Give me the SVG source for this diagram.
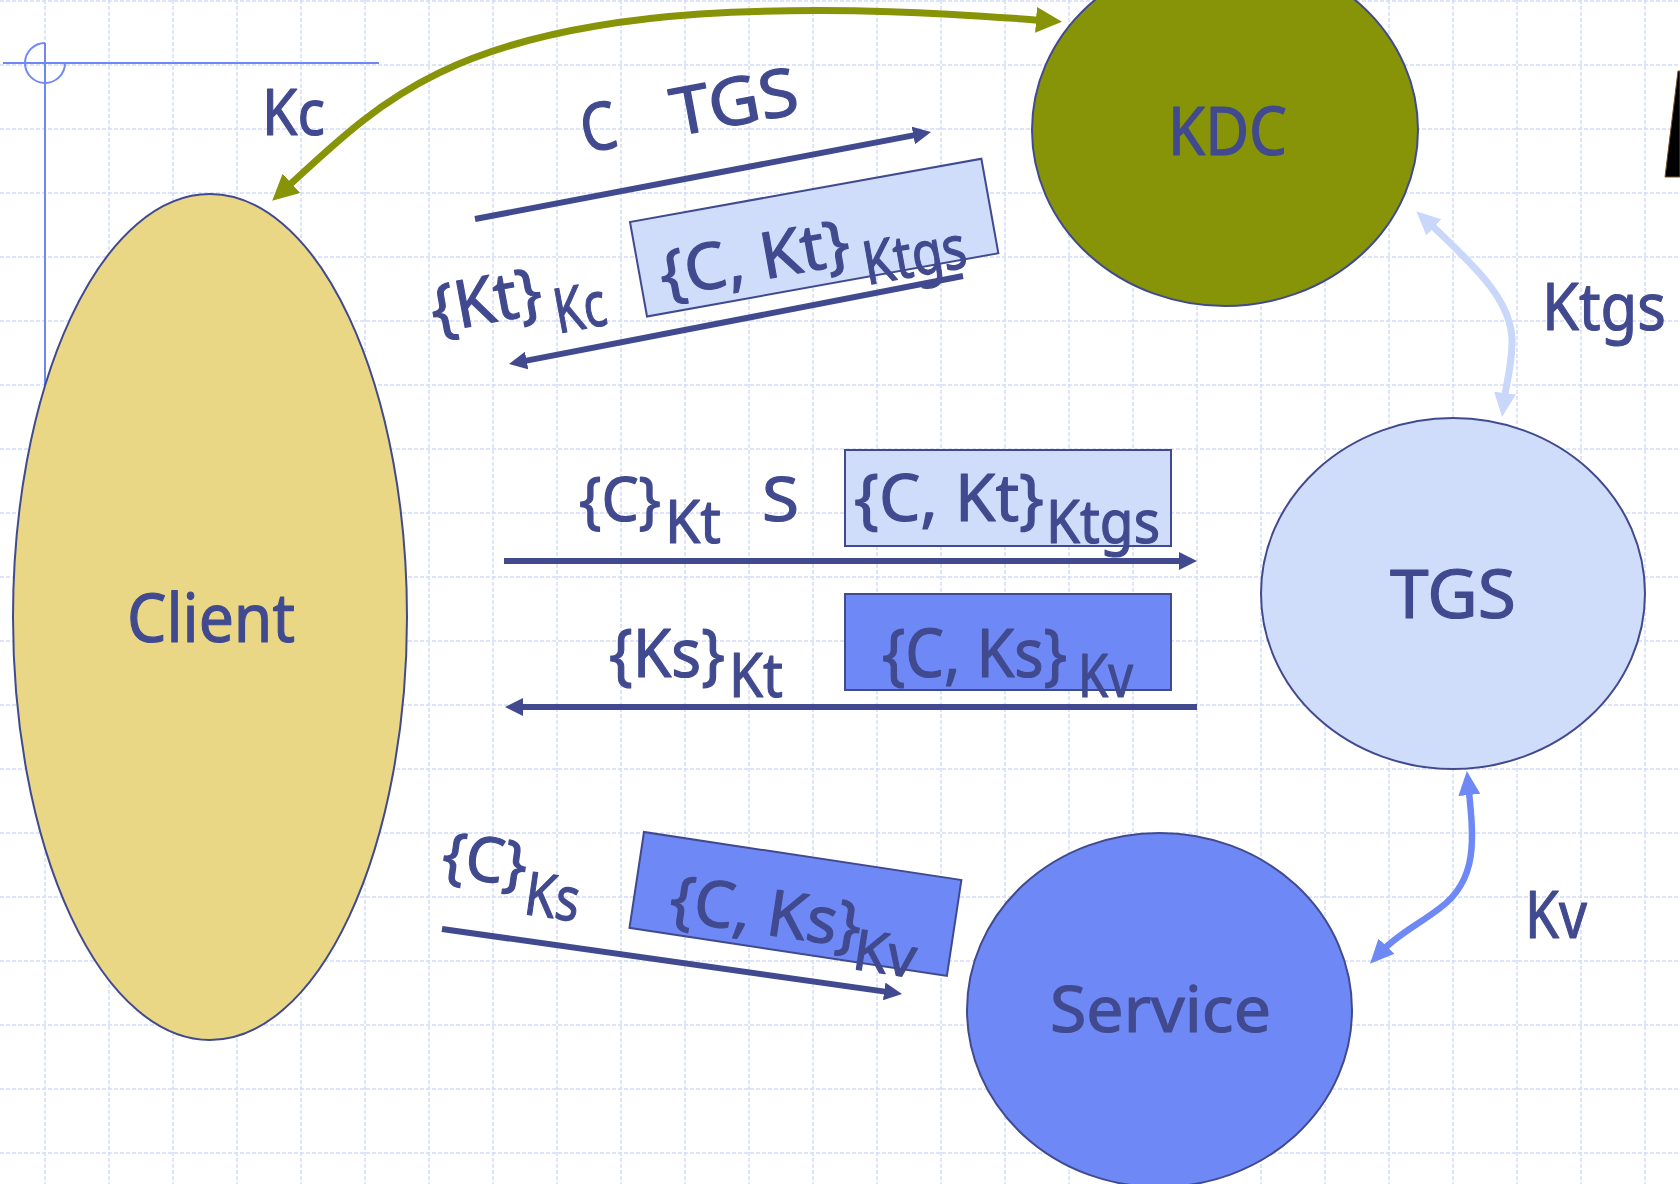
<svg xmlns="http://www.w3.org/2000/svg" width="1680" height="1184" viewBox="0 0 1680 1184">
  <style>
    .grid { fill: none; stroke: #d4ddf9; stroke-width: 1.5; stroke-dasharray: 4 2; }
    .node { stroke: #414a8f; stroke-width: 2; }
    .lbl { font-family: "Noto Sans", "DejaVu Sans", sans-serif; fill: #414a8f; stroke: #414a8f; stroke-width: 1.2; stroke-linejoin: round; }
    .msg { fill: none; stroke: #414a8f; stroke-width: 6; }
    .box { stroke: #414a8f; stroke-width: 2; }
    .light { fill: #cfdcfa; }
    .dark { fill: #6e89f5; }
  </style>
  <defs>
    <marker id="head-navy" markerUnits="userSpaceOnUse" viewBox="0 0 18 18" markerWidth="18" markerHeight="18" refX="8" refY="9" orient="auto-start-reverse">
      <path d="M0 0 L18 9 L0 18 Z" fill="#414a8f"/>
    </marker>
    <marker id="head-olive" markerUnits="userSpaceOnUse" viewBox="0 0 26 26" markerWidth="26" markerHeight="26" refX="10" refY="13" orient="auto-start-reverse">
      <path d="M0 0 L26 13 L0 26 Z" fill="#879407"/>
    </marker>
    <marker id="head-pale" markerUnits="userSpaceOnUse" viewBox="0 0 24 22" markerWidth="24" markerHeight="22" refX="8" refY="11" orient="auto-start-reverse">
      <path d="M0 0 L24 11 L0 22 Z" fill="#c9d7fa"/>
    </marker>
    <marker id="head-blue" markerUnits="userSpaceOnUse" viewBox="0 0 24 22" markerWidth="24" markerHeight="22" refX="8" refY="11" orient="auto-start-reverse">
      <path d="M0 0 L24 11 L0 22 Z" fill="#6e89f5"/>
    </marker>
  </defs>

  <rect width="1680" height="1184" fill="#ffffff"/>

  <!-- background grid, 64px cells -->
  <g id="grid">
    <path class="grid" d="M45 0V1184M109 0V1184M173 0V1184M237 0V1184M301 0V1184M365 0V1184M429 0V1184M493 0V1184M557 0V1184M621 0V1184M685 0V1184M749 0V1184M813 0V1184M877 0V1184M941 0V1184M1005 0V1184M1069 0V1184M1133 0V1184M1197 0V1184M1261 0V1184M1325 0V1184M1389 0V1184M1453 0V1184M1517 0V1184M1581 0V1184M1645 0V1184"/>
    <path class="grid" d="M0 1H1680M0 65H1680M0 129H1680M0 193H1680M0 257H1680M0 321H1680M0 385H1680M0 449H1680M0 513H1680M0 577H1680M0 641H1680M0 705H1680M0 769H1680M0 833H1680M0 897H1680M0 961H1680M0 1025H1680M0 1089H1680M0 1153H1680"/>
  </g>

  <!-- corner guide mark -->
  <g id="guide" fill="none" stroke="#6e89f5" stroke-width="2">
    <path d="M3 63H379"/>
    <path d="M45 43V400"/>
    <path d="M45 43A20 20 0 1 0 65 63"/>
  </g>

  <!-- clipped dark shape at the right edge -->
  <polygon points="1678,71 1680,71 1680,177 1665,177" fill="#000000" stroke="#7a5020" stroke-width="1"/>

  <g id="client">
    <ellipse class="node" cx="210" cy="617" rx="197" ry="423" fill="#e9d785"/>
    <text class="lbl" x="127" y="642" font-size="68" textLength="168" lengthAdjust="spacingAndGlyphs">Client</text>
  </g>

  <g id="kdc">
    <ellipse class="node" cx="1225" cy="130" rx="193" ry="176" fill="#879407"/>
    <text class="lbl" x="1168" y="155" font-size="68" textLength="119" lengthAdjust="spacingAndGlyphs">KDC</text>
  </g>

  <g id="tgs">
    <ellipse class="node" cx="1453" cy="593.5" rx="192" ry="175.5" fill="#cfdcfa"/>
    <text class="lbl" x="1390" y="618" font-size="68" textLength="126" lengthAdjust="spacingAndGlyphs">TGS</text>
  </g>

  <g id="service">
    <ellipse class="node" cx="1159.5" cy="1010" rx="192.5" ry="177" fill="#6e89f5"/>
    <text class="lbl" x="1050" y="1032" font-size="64" textLength="221" lengthAdjust="spacingAndGlyphs">Service</text>
  </g>

  <!-- connectors -->
  <g id="connectors">
    <!-- shared keys -->
    <path d="M284 190C372 110 440 32 700 14C850 5 980 16 1046 20.6" fill="none" stroke="#879407" stroke-width="7" marker-start="url(#head-olive)" marker-end="url(#head-olive)"/>
    <path d="M1428 222C1482 272 1514 305 1512 345C1511 370 1506 385 1504 401" fill="none" stroke="#c9d7fa" stroke-width="7" marker-start="url(#head-pale)" marker-end="url(#head-pale)"/>
    <path d="M1468.5 787C1474 840 1478 880 1440 908C1418 925 1398 934 1381 952" fill="none" stroke="#6e89f5" stroke-width="6.5" marker-start="url(#head-blue)" marker-end="url(#head-blue)"/>
    <!-- protocol messages -->
    <path class="msg" d="M475 219L921.2 133.9" marker-end="url(#head-navy)"/>
    <path class="msg" d="M963 276L518.8 362.1" marker-end="url(#head-navy)"/>
    <path class="msg" d="M504 561H1187" marker-end="url(#head-navy)"/>
    <path class="msg" d="M1197 707H515" marker-end="url(#head-navy)"/>
    <path class="msg" d="M442 929L892.1 992.6" marker-end="url(#head-navy)"/>
  </g>

  <!-- key labels -->
  <g id="label-kc">
    <text class="lbl" x="262" y="135" font-size="64" textLength="63" lengthAdjust="spacingAndGlyphs">Kc</text>
  </g>
  <g id="label-ktgs">
    <text class="lbl" x="1542" y="330" font-size="66" textLength="124" lengthAdjust="spacingAndGlyphs">Ktgs</text>
  </g>
  <g id="label-kv">
    <text class="lbl" x="1525" y="938" font-size="66" textLength="62" lengthAdjust="spacingAndGlyphs">Kv</text>
  </g>

  <!-- message 1: client to KDC -->
  <g id="msg-request" transform="translate(585 153) rotate(-10.5)">
    <text class="lbl" x="0" y="0" font-size="66" textLength="36" lengthAdjust="spacingAndGlyphs">C</text>
    <text class="lbl" x="92" y="0" font-size="66" textLength="128" lengthAdjust="spacingAndGlyphs">TGS</text>
  </g>

  <!-- message 2: KDC reply -->
  <g id="msg-reply-kc" transform="translate(435 333) rotate(-10.5)">
    <text class="lbl" x="0" y="0" font-size="66" textLength="112" lengthAdjust="spacingAndGlyphs">{Kt}</text>
    <text class="lbl" x="121" y="23" font-size="62" textLength="52" lengthAdjust="spacingAndGlyphs">Kc</text>
  </g>
  <g id="ticket-tgs-1" transform="translate(630 222) rotate(-10.2)">
    <rect class="box light" x="0" y="0" width="357" height="96"/>
    <text class="lbl" x="20" y="80" font-size="64" textLength="192" lengthAdjust="spacingAndGlyphs">{C, Kt}</text>
    <text class="lbl" x="222" y="104" font-size="60" textLength="104" lengthAdjust="spacingAndGlyphs">Ktgs</text>
  </g>

  <!-- message 3: client to TGS -->
  <g id="msg-tgs-request">
    <text class="lbl" x="579" y="521" font-size="62" textLength="82" lengthAdjust="spacingAndGlyphs">{C}</text>
    <text class="lbl" x="665" y="543" font-size="60" textLength="56" lengthAdjust="spacingAndGlyphs">Kt</text>
    <text class="lbl" x="762" y="521" font-size="62" textLength="37" lengthAdjust="spacingAndGlyphs">S</text>
  </g>
  <g id="ticket-tgs-2">
    <rect class="box light" x="845" y="450" width="326" height="96"/>
    <text class="lbl" x="854" y="521" font-size="66" textLength="190" lengthAdjust="spacingAndGlyphs">{C, Kt}</text>
    <text class="lbl" x="1046" y="543" font-size="60" textLength="114" lengthAdjust="spacingAndGlyphs">Ktgs</text>
  </g>

  <!-- message 4: TGS reply -->
  <g id="msg-tgs-reply">
    <text class="lbl" x="609" y="677" font-size="68" textLength="116" lengthAdjust="spacingAndGlyphs">{Ks}</text>
    <text class="lbl" x="729" y="697" font-size="62" textLength="54" lengthAdjust="spacingAndGlyphs">Kt</text>
  </g>
  <g id="ticket-service-1">
    <rect class="box dark" x="845" y="594" width="326" height="96"/>
    <text class="lbl" x="882" y="677" font-size="68" textLength="185" lengthAdjust="spacingAndGlyphs">{C, Ks}</text>
    <text class="lbl" x="1078" y="697" font-size="60" textLength="55" lengthAdjust="spacingAndGlyphs">Kv</text>
  </g>

  <!-- message 5: client to service -->
  <g id="msg-service-request" transform="translate(440 875) rotate(8)">
    <text class="lbl" x="0" y="0" font-size="62" textLength="85" lengthAdjust="spacingAndGlyphs">{C}</text>
    <text class="lbl" x="87" y="27" font-size="60" textLength="55" lengthAdjust="spacingAndGlyphs">Ks</text>
  </g>
  <g id="ticket-service-2" transform="translate(644 832) rotate(8.6)">
    <rect class="box dark" x="0" y="0" width="321" height="97"/>
    <text class="lbl" x="36" y="83" font-size="64" textLength="193" lengthAdjust="spacingAndGlyphs">{C, Ks}</text>
    <text class="lbl" x="225" y="104" font-size="56" textLength="63" lengthAdjust="spacingAndGlyphs">Kv</text>
  </g>
</svg>
